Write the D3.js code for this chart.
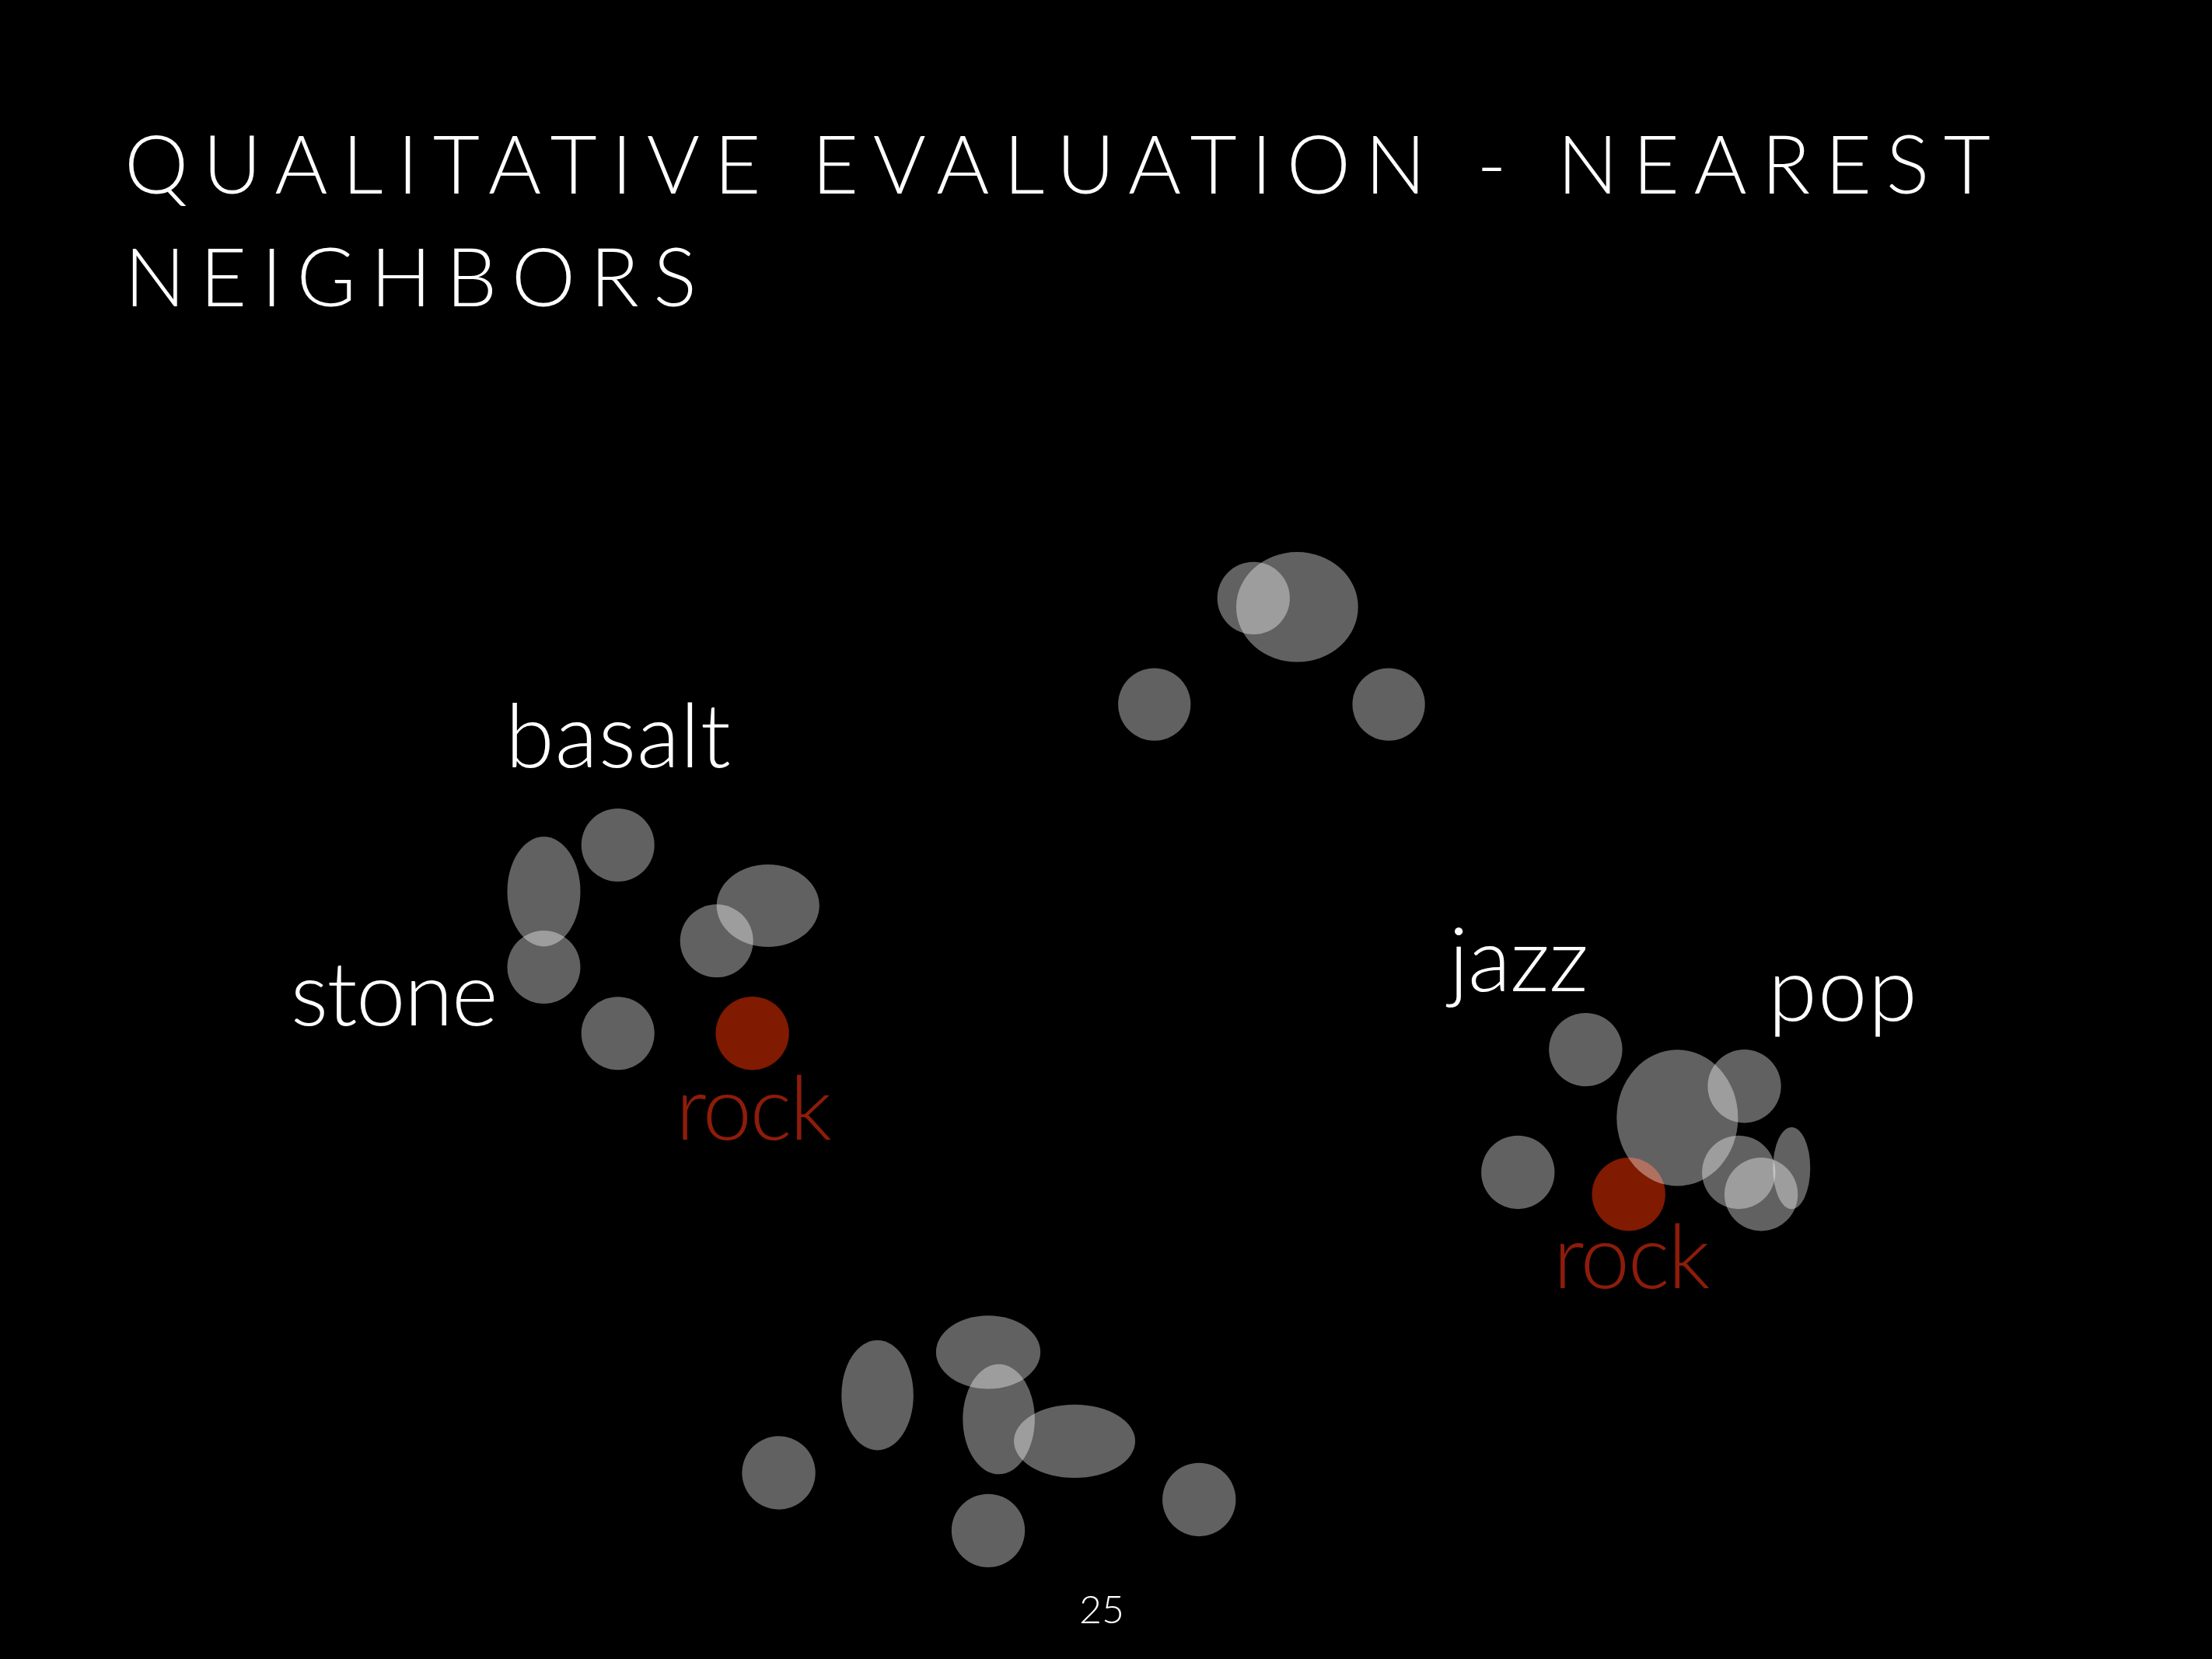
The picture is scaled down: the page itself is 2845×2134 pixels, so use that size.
<!DOCTYPE html>
<html>
<head>
<meta charset="utf-8">
<script src="https://cdn.jsdelivr.net/npm/d3@7"></script>
<style>
  html, body { margin: 0; padding: 0; background: #000; }
  svg { display: block; }
</style>
</head>
<body>
<script>
// ---- data (2-D embedding positions and extents, in embedding units) ----
const grayX  = [888.6, 919.5, 818.3, 984.4,
                385.5, 438, 385.5, 544.4, 508, 438,
                1124, 1189, 1236.5, 1076, 1232.5, 1248.4, 1270,
                622, 700.5, 708, 761.7, 552, 700.5, 850];
const grayY  = [424, 430.3, 499.3, 499.3,
                632, 599, 685.6, 642, 667, 732.5,
                744, 792.4, 770, 831, 831, 846.6, 828,
                989, 958.5, 1006, 1021.6, 1044, 1085, 1063];
const grayRX = [25.7, 43.2, 25.7, 25.7,
                25.9, 25.9, 25.9, 36.4, 25.9, 25.9,
                26, 43, 26, 26, 26, 26, 13.2,
                25.5, 37, 25.5, 43, 26, 26, 26];
const grayRY = [25.7, 39, 25.7, 25.7,
                38.9, 25.9, 25.9, 29.2, 25.9, 25.9,
                26, 48.3, 26, 26, 26, 26, 29,
                39, 26, 39, 26, 26, 26, 26];

const redX  = [533.3, 1154.5];
const redY  = [732.5, 846.6];
const redR  = [26, 26];

const labelText  = ["basalt", "stone", "rock", "jazz", "pop", "rock"];
const labelX     = [358.3, 206, 479, 1027, 1253.3, 1101];
const labelY     = [544, 726.6, 807.8, 702.5, 723.6, 913.2];
const labelW     = [159.7, 147, 110.7, 99, 105.7, 111.2];
const labelIsRed = [false, false, true, false, false, true];

const titleLines = ["QUALITATIVE EVALUATION - NEAREST", "NEIGHBORS"];
const pageNumber = "25";

// ---- layout ----
const W = 2845, H = 2134;
const x = d3.scaleLinear().domain([0, 1568]).range([0, W]);
const y = d3.scaleLinear().domain([0, 1176]).range([0, H]);
const dx = v => x(v) - x(0);
const dy = v => y(v) - y(0);

const RED = "#801a00";
const RED_TEXT = "#8e1c0a";

const svg = d3.select("body").append("svg")
  .attr("width", W).attr("height", H)
  .attr("viewBox", `0 0 ${W} ${H}`);

svg.append("rect").attr("width", W).attr("height", H).attr("fill", "#000");

// title
const titleW = [2400, 736];
svg.append("g").selectAll("text")
  .data(titleLines)
  .join("text")
  .attr("x", 160)
  .attr("y", (d, i) => 249 + i * 144.5)
  .attr("fill", "#fff")
  .attr("font-family", "Lato, 'Open Sans', sans-serif")
  .attr("font-weight", 300)
  .attr("font-size", 104)
  .attr("textLength", (d, i) => titleW[i])
  .attr("lengthAdjust", "spacing")
  .text(d => d);

// red points (underneath the grey ones)
const redData = redX.map((v, i) => ({ x: v, y: redY[i], r: redR[i] }));
svg.append("g").selectAll("ellipse")
  .data(redData)
  .join("ellipse")
  .attr("cx", d => x(d.x))
  .attr("cy", d => y(d.y))
  .attr("rx", d => dx(d.r))
  .attr("ry", d => dy(d.r))
  .attr("fill", RED);

// grey neighbour points
const grayData = grayX.map((v, i) => ({ x: v, y: grayY[i], rx: grayRX[i], ry: grayRY[i] }));
svg.append("g").selectAll("ellipse")
  .data(grayData)
  .join("ellipse")
  .attr("cx", d => x(d.x))
  .attr("cy", d => y(d.y))
  .attr("rx", d => dx(d.rx))
  .attr("ry", d => dy(d.ry))
  .attr("fill", "#fff")
  .attr("fill-opacity", 0.38);

// word labels
const labelData = labelText.map((t, i) => ({ t, x: labelX[i], y: labelY[i], w: labelW[i], red: labelIsRed[i] }));
svg.append("g").selectAll("text")
  .data(labelData)
  .join("text")
  .attr("x", d => x(d.x))
  .attr("y", d => y(d.y))
  .attr("fill", d => d.red ? RED_TEXT : "#fff")
  .attr("font-family", "Lato, 'Open Sans', sans-serif")
  .attr("font-weight", 300)
  .attr("font-size", 114)
  .attr("textLength", d => dx(d.w))
  .attr("lengthAdjust", "spacing")
  .text(d => d.t);

// page number
svg.append("text")
  .attr("x", x(781))
  .attr("y", y(1150.5))
  .attr("text-anchor", "middle")
  .attr("fill", "#fff")
  .attr("font-family", "Lato, 'Open Sans', sans-serif")
  .attr("font-weight", 300)
  .attr("font-size", 50)
  .text(pageNumber);
</script>
</body>
</html>
